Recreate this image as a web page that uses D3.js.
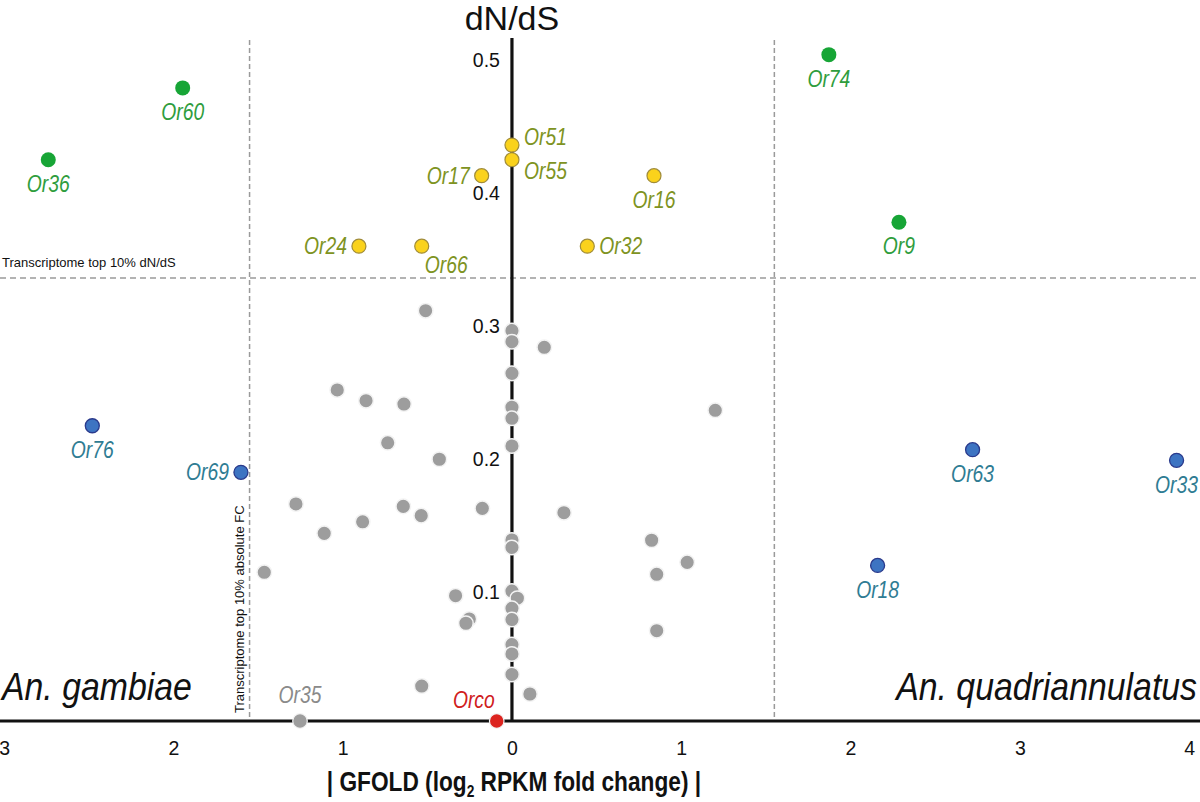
<!DOCTYPE html>
<html>
<head>
<meta charset="utf-8">
<script src="https://cdn.jsdelivr.net/npm/d3@7"></script>
<style>
body { margin: 0; background: #fff; }
svg { display: block; font-family: "Liberation Sans", Arial, sans-serif; }
</style>
</head>
<body>
<div id="chart"></div>
<script>
// signed GFOLD: negative = An. gambiae biased, positive = An. quadriannulatus biased
var namedGenes = ["Or60", "Or36", "Or74", "Or9",
                  "Or24", "Or51", "Or55", "Or17", "Or16", "Or66", "Or32",
                  "Or76", "Or69", "Or63", "Or33", "Or18",
                  "Orco", "Or35"];
var namedFC   = [-1.945, -2.739, 1.872, 2.286,
                 -0.904, 0, 0, -0.179, 0.839, -0.533, 0.445,
                 -2.479, -1.601, 2.721, 3.926, 2.160,
                 -0.090, -1.252];
var namedDNDS = [0.476, 0.422, 0.501, 0.375,
                 0.357, 0.433, 0.422, 0.410, 0.410, 0.357, 0.357,
                 0.222, 0.187, 0.204, 0.196, 0.117,
                 0, 0];
var namedGroup = ["both", "both", "both", "both",
                  "dnds", "dnds", "dnds", "dnds", "dnds", "dnds", "dnds",
                  "fc", "fc", "fc", "fc", "fc",
                  "orco", "none"];

// the remaining, unlabelled receptors
var otherFC   = [-0.510, 0, 0, 0, 0, 0, 0, -1.032, -0.862, -0.638,
                 -0.734, -0.429, -1.276, -0.642, -0.536, -0.175, -0.882, -1.109, -1.463, 0,
                 0, -0.333, 0, 0.032, 0, 0, -0.252, -0.272, 0, 0,
                 0, -0.533, 0.106, 0.191, 1.201, 0.307, 0.825, 1.035, 0.855, 0.855];
var otherDNDS = [0.3085, 0.2935, 0.2852, 0.2614, 0.2359, 0.2276, 0.2068, 0.2489, 0.2408, 0.2383,
                 0.2092, 0.1968, 0.1632, 0.1614, 0.1544, 0.1599, 0.1498, 0.1411, 0.1118, 0.1361,
                 0.1305, 0.0942, 0.0977, 0.0923, 0.0847, 0.0763, 0.0767, 0.0735, 0.0575, 0.0504,
                 0.0350, 0.0263, 0.0203, 0.2810, 0.2336, 0.1566, 0.1359, 0.1193, 0.1103, 0.0679];

var xTicks = [-3, -2, -1, 0, 1, 2, 3, 4];
var yTicks = [0.1, 0.2, 0.3, 0.4, 0.5];
var dndsCut = 0.333;   // transcriptome top 10% dN/dS
var fcCut = 1.55;      // transcriptome top 10% absolute FC

// where each label sits around its dot
var labelAt = {Or60: "below", Or36: "below", Or74: "below", Or9: "below",
               Or24: "left", Or51: "rightUp", Or55: "rightDown", Or17: "left",
               Or16: "below", Or66: "belowRight", Or32: "right",
               Or76: "below", Or69: "left", Or63: "below", Or33: "below", Or18: "below",
               Orco: "aboveLeft", Or35: "above"};
var place = {
  below:      {anchor: "middle", dx: 0,   dy: 24},
  above:      {anchor: "middle", dx: 0,   dy: -26},
  left:       {anchor: "end",    dx: -12, dy: 0},
  right:      {anchor: "start",  dx: 12,  dy: 0},
  rightUp:    {anchor: "start",  dx: 12,  dy: -8},
  rightDown:  {anchor: "start",  dx: 12,  dy: 11},
  belowRight: {anchor: "start",  dx: 3,   dy: 19},
  aboveLeft:  {anchor: "end",    dx: -2,  dy: -21}
};
var style = {
  both: {fill: "#17a536", stroke: "none",    r: 7.5, text: "#2f9d3d"},
  dnds: {fill: "#fad21c", stroke: "#a08c3a", r: 7,   text: "#7e9322"},
  fc:   {fill: "#3d74c2", stroke: "#2a3a8c", r: 7,   text: "#2f7c93"},
  orco: {fill: "#dc241f", stroke: "#f3f3f3", r: 7.3, text: "#d0201c"},
  none: {fill: "#9d9d9d", stroke: "#f3f3f3", r: 7.3, text: "#8a8a8a"}
};

var width = 1200, height = 802;
var svg = d3.select("#chart").append("svg")
  .attr("width", width)
  .attr("height", height);

var x = d3.scaleLinear().domain([-3, 4]).range([4.1, 1189.1]);
var y = d3.scaleLinear().domain([0, 0.5]).range([721, 56]);

// threshold lines
svg.append("line")
  .attr("x1", 0).attr("x2", width)
  .attr("y1", y(dndsCut)).attr("y2", y(dndsCut))
  .attr("stroke", "#9a9a9a").attr("stroke-width", 1.5)
  .attr("stroke-dasharray", "6,4");
[-fcCut, fcCut].forEach(function(c) {
  svg.append("line")
    .attr("x1", x(c)).attr("x2", x(c))
    .attr("y1", 40).attr("y2", y(0))
    .attr("stroke", "#9a9a9a").attr("stroke-width", 1.5)
    .attr("stroke-dasharray", "5,3");
});

svg.append("text")
  .attr("x", 2).attr("y", y(dndsCut) - 11)
  .attr("font-size", "13px").attr("fill", "#111")
  .text("Transcriptome top 10% dN/dS");
svg.append("text")
  .attr("transform", "translate(" + (x(-fcCut) - 6) + "," + (y(0) - 8) + ") rotate(-90)")
  .attr("font-size", "13px").attr("fill", "#111")
  .text("Transcriptome top 10% absolute FC");

// axes
svg.append("line")
  .attr("x1", 0).attr("x2", width)
  .attr("y1", y(0)).attr("y2", y(0))
  .attr("stroke", "#111").attr("stroke-width", 3);
svg.append("line")
  .attr("x1", x(0)).attr("x2", x(0))
  .attr("y1", 38).attr("y2", y(0))
  .attr("stroke", "#111").attr("stroke-width", 3.2);

var xAxis = svg.append("g")
  .attr("transform", "translate(0," + y(0) + ")")
  .call(d3.axisBottom(x).tickValues(xTicks).tickSize(0).tickPadding(20)
        .tickFormat(function(d) { return Math.abs(d); }));
xAxis.select(".domain").remove();
xAxis.selectAll("text").attr("font-size", "19.5px").attr("fill", "#111")
  .attr("font-family", "Liberation Sans, Arial, sans-serif");

var yAxis = svg.append("g")
  .attr("transform", "translate(" + x(0) + ",0)")
  .call(d3.axisLeft(y).tickValues(yTicks).tickSize(0).tickPadding(12)
        .tickFormat(d3.format(".1f")));
yAxis.select(".domain").remove();
yAxis.selectAll("text").attr("font-size", "19.5px").attr("fill", "#111").attr("y", 4)
  .attr("font-family", "Liberation Sans, Arial, sans-serif");

svg.append("text")
  .attr("x", x(0)).attr("y", 30)
  .attr("text-anchor", "middle")
  .attr("font-size", "34px").attr("fill", "#111")
  .text("dN/dS");

// x-axis title, condensed bold
var title = svg.append("text")
  .attr("transform", "translate(" + (x(0) + 2) + ",791) scale(0.81,1)")
  .attr("text-anchor", "middle")
  .attr("font-size", "28px").attr("font-weight", "bold").attr("fill", "#111");
title.append("tspan").text("| GFOLD (log");
title.append("tspan").attr("font-size", "17px").attr("dy", 6).text("2");
title.append("tspan").attr("dy", -6).text(" RPKM fold change) |");

// species names
svg.append("text")
  .attr("transform", "translate(2,700) scale(0.89,1)")
  .attr("font-size", "38px").attr("font-style", "italic").attr("fill", "#111")
  .text("An. gambiae");
svg.append("text")
  .attr("transform", "translate(1197,700) scale(0.89,1)")
  .attr("text-anchor", "end")
  .attr("font-size", "38px").attr("font-style", "italic").attr("fill", "#111")
  .text("An. quadriannulatus");

// unlabelled receptors
var others = otherFC.map(function(v, i) { return {fc: v, dnds: otherDNDS[i]}; });
svg.append("g").selectAll("circle")
  .data(others)
  .enter().append("circle")
  .attr("cx", function(d) { return x(d.fc); })
  .attr("cy", function(d) { return y(d.dnds); })
  .attr("r", style.none.r)
  .attr("fill", style.none.fill)
  .attr("stroke", style.none.stroke)
  .attr("stroke-width", 1.5);

// named receptors
var named = namedGenes.map(function(n, i) {
  return {name: n, fc: namedFC[i], dnds: namedDNDS[i], group: namedGroup[i]};
});
var node = svg.append("g").selectAll("g")
  .data(named)
  .enter().append("g");
node.append("circle")
  .attr("cx", function(d) { return x(d.fc); })
  .attr("cy", function(d) { return y(d.dnds); })
  .attr("r", function(d) { return style[d.group].r; })
  .attr("fill", function(d) { return style[d.group].fill; })
  .attr("stroke", function(d) { return style[d.group].stroke; })
  .attr("stroke-width", function(d) { return d.group == "fc" ? 1.3 : 1.2; });
node.append("text")
  .attr("transform", function(d) {
    var p = place[labelAt[d.name]];
    return "translate(" + (x(d.fc) + p.dx) + "," + (y(d.dnds) + p.dy + 8.2) + ") scale(0.84,1)";
  })
  .attr("text-anchor", function(d) { return place[labelAt[d.name]].anchor; })
  .attr("font-size", "23px")
  .attr("font-style", "italic")
  .attr("fill", function(d) { return style[d.group].text; })
  .text(function(d) { return d.name; });
</script>
</body>
</html>
